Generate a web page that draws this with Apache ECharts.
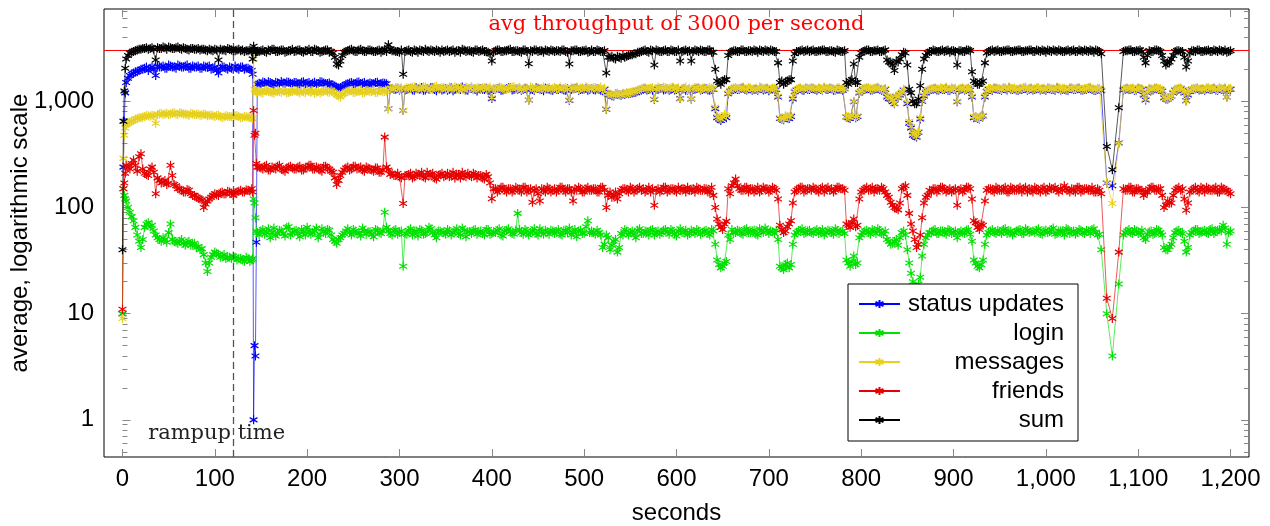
<!DOCTYPE html>
<html><head><meta charset="utf-8">
<script src="https://cdn.jsdelivr.net/npm/echarts@6/dist/echarts.min.js"></script>
<style>html,body{margin:0;padding:0;background:#fff}#c{width:1270px;height:526px}</style>
</head><body><div id="c"></div>
<script>
// ---- data (seconds, average requests per second) ----
// samples: main grid ...
const seconds = [
0,1,2,3,
4,8,12,16,20,24,28,32,36,40,44,48,52,56,60,64,68,72,76,80,84,88,92,96,100,104,108,112,116,120,124,128,132,136,140,
141,142,143,144,145,146,
148,152,156,160,164,168,172,176,180,184,
188,192,196,200,204,208,212,216,220,224,
228,232,236,240,244,248,252,256,260,264,
268,272,276,280,284,288,292,296,300,304,
308,312,316,320,324,328,332,336,340,344,
348,352,356,360,364,368,372,376,380,384,
388,392,396,400,404,408,412,416,420,424,
428,432,436,440,444,448,452,456,460,464,
468,472,476,480,484,488,492,496,500,504,
508,512,516,520,524,528,532,536,540,544,
548,552,556,560,564,568,572,576,580,584,
588,592,596,600,604,608,612,616,620,624,
628,632,636,640,644,648,652,656,660,664,
668,672,676,680,684,688,692,696,700,704,
708,712,716,720,724,728,732,736,740,744,
748,752,756,760,764,768,772,776,780,784,
788,792,796,800,804,808,812,816,820,824,
828,832,836,840,844,848,852,856,860,864,
868,872,876,880,884,888,892,896,900,904,
908,912,916,920,924,928,932,936,940,944,
948,952,956,960,964,968,972,976,980,984,
988,992,996,1000,1004,1008,1012,1016,1020,1024,
1028,1032,1036,1040,1044,1048,1052,1056,1060,
1066,1072,1079,
1084,1088,1092,1096,1100,1104,1108,1112,1116,1120,
1124,1128,1132,1136,1140,1144,1148,1152,1156,1160,
1164,1168,1172,1176,1180,1184,1188,1192,1196,1200
];

const statusUpdates = [
10,240,650,1200,
1500,1750,1850,1900,2000,2050,1950,2100,1750,2100,2150,2050,2150,2100,2200,2100,2150,2050,2150,2100,2050,2150,2100,2000,2100,1850,2100,2050,2100,2000,2050,2100,2000,2050,1950,
1800,1,5,4,47,1450,
1480,1520,1450,1500,1430,1490,1540,1470,1510,1460,
1500,1450,1530,1480,1440,1510,1470,1520,1460,1490,
1420,1350,1340,1400,1460,1500,1470,1520,1480,1450,
1490,1460,1510,1470,1480,850,1320,1300,1280,820,
1290,1330,1270,1310,1350,1280,1300,1340,1260,1320,
1300,1270,1340,1290,1310,1360,1280,1320,1300,1250,
1320,1290,1270,1060,1300,1330,1280,1310,1350,1290,
1300,1270,1320,1030,1290,1340,1300,1260,1310,1280,
1330,1290,1300,1270,1020,1310,1340,1290,1300,1270,
1320,1280,1300,1260,840,1150,1120,1170,1140,1160,
1180,1200,1220,1260,1300,1280,1310,1040,1290,1320,
1300,1270,1330,1290,1060,1310,1280,1050,1300,1330,
1290,1310,1270,1300,700,660,720,1180,1280,1310,
1300,1340,1280,1310,1290,1270,1330,1300,1260,1310,
1290,690,670,700,720,1230,1300,1280,1320,1290,
1310,1270,1300,1340,1290,1310,1280,1300,1270,710,
690,990,720,1250,1300,1320,1280,1310,1290,1270,
1100,1050,950,1080,1200,1250,620,480,460,680,
1120,1250,1290,1310,1280,1300,1330,1270,1290,990,
1300,1280,1310,1100,710,680,730,1240,1290,1320,
1300,1270,1310,1340,1290,1280,1300,1320,1270,1310,
1290,1330,1300,1270,1310,1290,1340,1280,1300,1270,
1310,1290,1320,1280,1300,1330,1270,1300,1260,
170,160,405,
1280,1310,1300,1270,1320,1290,1030,1300,1280,1310,
1290,1080,1050,1120,1280,1300,1270,1010,1240,1300,
1320,1290,1270,1310,1300,1280,1320,1290,1100,1300
];

const login = [
10,150,130,120,
115,90,75,55,42,65,72,68,55,50,52,47,70,48,46,50,44,48,45,42,40,36,25,34,38,36,35,33,34,35,32,33,31,33,32,
33,120,110,80,60,58,
55,62,58,52,64,57,60,54,66,58,
61,53,59,65,56,60,52,63,57,61,
50,46,52,57,63,55,60,58,64,56,
59,53,61,57,90,60,55,62,58,28,
56,63,59,54,61,57,65,58,52,60,
58,62,55,60,57,64,53,59,61,56,
60,55,62,57,58,63,54,61,59,56,
88,58,62,55,60,57,63,56,59,61,
57,62,55,60,64,58,53,61,57,75,
60,56,58,42,55,40,48,38,57,62,
55,60,52,63,57,59,61,55,60,58,
62,56,60,54,63,58,55,61,57,60,
58,61,55,60,32,27,30,55,62,58,
60,56,63,58,61,55,60,64,57,59,
61,28,26,30,29,55,60,63,58,61,
57,62,59,55,61,58,63,57,60,32,
28,35,30,55,60,58,62,57,61,56,
50,45,48,44,58,55,30,20,16,22,
45,55,58,62,57,60,56,61,58,52,
60,57,62,48,30,27,32,55,60,58,
61,57,63,59,55,60,62,57,61,59,
58,63,56,61,59,64,57,60,55,62,
59,56,62,58,61,57,63,55,40,
10,4,19,
55,60,58,62,57,61,50,59,56,62,
58,42,40,45,58,61,57,38,55,60,
62,58,61,57,63,59,62,68,45,60
];

const messages = [
9,290,480,560,
600,640,660,690,700,720,730,740,620,760,750,770,760,780,750,770,760,740,760,750,740,760,730,740,720,740,700,730,720,710,730,700,720,710,700,
680,2500,1300,1250,1200,1220,
1240,1200,1270,1230,1190,1260,1220,1250,1210,1240,
1260,1200,1230,1270,1220,1190,1250,1230,1280,1210,
1230,1150,1100,1180,1240,1270,1220,1250,1200,1260,
1230,1270,1210,1250,1240,850,1330,1350,1300,820,
1340,1310,1370,1320,1290,1360,1330,1300,1380,1320,
1350,1310,1290,1370,1330,1300,1360,1320,1280,1340,
1310,1350,1330,1080,1300,1360,1320,1290,1340,1370,
1320,1290,1350,1030,1340,1310,1280,1360,1330,1300,
1350,1320,1290,1340,1030,1310,1360,1330,1290,1340,
1310,1350,1320,1290,850,1170,1140,1190,1150,1180,
1200,1230,1250,1290,1340,1310,1330,1050,1360,1320,
1340,1300,1360,1320,1050,1330,1290,1060,1350,1310,
1330,1290,1350,1310,720,680,750,1200,1320,1350,
1320,1360,1300,1340,1310,1290,1350,1330,1300,1340,
1310,700,680,720,740,1250,1330,1300,1350,1320,
1340,1300,1320,1360,1310,1330,1290,1340,1310,720,
700,1000,730,1260,1330,1350,1300,1340,1310,1290,
1120,1080,960,1100,1220,1270,650,500,470,700,
1150,1270,1310,1340,1300,1320,1360,1290,1310,1000,
1330,1300,1340,1120,720,690,740,1260,1320,1350,
1320,1290,1340,1360,1310,1300,1330,1350,1290,1340,
1310,1350,1320,1290,1340,1310,1360,1300,1330,1290,
1340,1310,1350,1300,1320,1360,1290,1330,1280,
172,109,400,
1300,1340,1320,1290,1350,1310,1050,1330,1300,1340,
1310,1100,1060,1130,1300,1330,1290,1000,1260,1320,
1350,1310,1290,1340,1320,1300,1350,1310,1100,1330
];

const friends = [
11,150,170,210,
250,230,280,220,320,210,200,240,135,180,175,165,250,165,150,145,140,145,130,125,120,100,115,125,135,130,140,135,140,130,140,145,140,145,150,
140,820,480,500,260,240,
240,230,250,225,235,245,230,220,240,235,
230,245,225,240,250,230,235,220,245,230,
215,165,200,225,240,230,245,235,225,240,
230,220,235,215,460,225,210,200,195,109,
200,210,195,205,215,190,200,210,185,205,
195,210,200,190,205,215,195,200,210,190,
200,185,195,121,150,145,155,140,150,145,
150,140,155,145,112,150,115,145,155,140,
150,145,155,140,150,115,145,150,140,155,
145,150,140,155,100,140,130,120,145,150,
140,150,145,155,150,145,140,105,150,145,
155,145,150,140,145,150,155,145,140,150,
145,150,140,130,78,65,70,150,160,185,
150,145,155,150,140,155,145,150,140,155,
145,68,58,66,75,140,150,155,145,150,
155,145,150,140,155,150,145,155,150,70,
65,78,68,140,150,145,155,150,145,150,
130,112,100,95,150,160,88,60,42,55,
110,130,140,150,145,155,140,150,145,105,
150,145,155,120,72,62,68,145,150,140,
150,145,155,140,150,145,155,150,140,145,
155,145,150,140,155,150,145,150,160,145,
150,140,155,145,150,145,140,150,135,
14,9,38,
150,145,155,140,150,145,140,150,155,145,
150,100,115,110,145,155,150,94,140,150,
145,155,140,150,145,155,140,150,145,135
];

const sum = [
40,650,1250,2050,
2500,2850,2950,3050,3100,3150,3100,3200,2450,3150,3250,3100,3200,3150,3250,3100,3150,3050,3150,3100,3050,3100,3000,3050,3100,2450,3050,3000,3100,3000,3050,3000,2950,3000,2950,
2500,3300,3100,2900,2950,2950,
2950,3050,2900,3000,3100,2950,3050,2900,3000,3100,
2980,3050,2900,3000,2950,3100,3000,2950,3050,2900,
2850,2250,2400,2900,3000,3100,2950,3050,3000,2950,
3050,2950,3000,2900,3100,3400,3000,2950,2900,1800,
3000,2950,3050,2900,3000,3100,2950,3000,3050,2900,
2950,3050,3000,2900,3000,3100,2950,3000,2900,3050,
3000,2950,2900,2400,3000,3050,2950,3000,3100,2950,
3000,2900,3050,2260,2950,3050,3000,2900,3000,3050,
2950,3000,3050,2950,2250,3000,3050,2950,3000,2900,
3050,2950,3000,2950,1850,2600,2550,2650,2550,2600,
2700,2750,2800,2900,3000,2950,3050,2200,3000,2950,
3050,2950,3000,2950,2400,3000,2950,2400,3050,2950,
3000,2950,3050,2900,1550,1450,1600,2700,2950,3000,
2950,3050,2950,3000,3050,2900,3000,3050,2950,3000,
2950,1500,1450,1550,1600,2800,2950,3050,3000,2950,
3050,2950,3000,3050,2950,3000,2900,3000,2950,1500,
1550,2250,1500,2850,3000,3050,2950,3000,2950,3000,
2450,2300,1950,2350,2750,2850,1300,1000,950,1400,
2500,2850,2950,3000,2950,3050,3000,2900,3000,2200,
3000,2950,3050,1900,1500,1450,1550,2850,3000,2950,
3050,2950,3000,3050,2950,3000,3050,2950,3000,3050,
2950,3000,3050,2900,3000,3050,2950,3000,2950,3050,
3000,2950,3050,2950,3000,3050,2900,3000,2800,
375,227,870,
2950,3000,3050,2950,3000,2950,2300,3000,2950,3050,
2950,2400,2300,2500,2950,3000,2950,2100,2850,3000,
3050,2950,3000,3050,2950,3000,3050,2950,2900,3000
];

// ... and the in-between samples
const secondsMid = [
6,10,14,18,22,26,30,34,38,42,46,50,54,58,62,66,70,74,78,82,86,90,94,98,102,106,110,114,118,122,126,130,134,138,
150,154,158,162,166,170,174,178,182,186,
190,194,198,202,206,210,214,218,222,226,
230,234,238,242,246,250,254,258,262,266,
270,274,278,282,286,290,294,298,302,306,
310,314,318,322,326,330,334,338,342,346,
350,354,358,362,366,370,374,378,382,386,
390,394,398,402,406,410,414,418,422,426,
430,434,438,442,446,450,454,458,462,466,
470,474,478,482,486,490,494,498,502,506,
510,514,518,522,526,530,534,538,542,546,
550,554,558,562,566,570,574,578,582,586,
590,594,598,602,606,610,614,618,622,626,
630,634,638,642,646,650,654,658,662,666,
670,674,678,682,686,690,694,698,702,706,
710,714,718,722,726,730,734,738,742,746,
750,754,758,762,766,770,774,778,782,786,
790,794,798,802,806,810,814,818,822,826,
830,834,838,842,846,850,854,858,862,866,
870,874,878,882,886,890,894,898,902,906,
910,914,918,922,926,930,934,938,942,946,
950,954,958,962,966,970,974,978,982,986,
990,994,998,1002,1006,1010,1014,1018,1022,1026,
1030,1034,1038,1042,1046,1050,1054,1058,
1086,1090,1094,1098,1102,1106,1110,1114,1118,1122,
1126,1130,1134,1138,1142,1146,1150,1154,1158,1162,
1166,1170,1174,1178,1182,1186,1190,1194,1198
];

const statusUpdatesMid = [
1650,1800,1900,1950,2000,2100,2050,2000,2150,2100,2050,2200,2100,2050,2150,2100,2200,2050,2100,2150,2050,2100,2150,2050,1950,2050,2100,2000,2050,2150,2000,2100,2050,2000,
1460,1500,1530,1470,1510,1450,1490,1520,1480,1500,
1470,1510,1460,1500,1480,1450,1530,1490,1470,1440,
1390,1330,1380,1450,1490,1460,1510,1470,1500,1460,
1470,1500,1450,1490,1460,1300,1290,1330,1310,1280,
1310,1280,1340,1300,1270,1320,1350,1290,1310,1280,
1320,1300,1260,1330,1290,1310,1270,1340,1290,1310,
1300,1330,1280,1290,1320,1270,1300,1340,1280,1310,
1330,1290,1310,1300,1270,1320,1290,1330,1300,1270,
1300,1320,1280,1310,1290,1330,1270,1300,1320,1290,
1290,1310,1270,1300,1160,1130,1180,1150,1170,1190,
1190,1210,1250,1280,1310,1290,1270,1300,1320,1280,
1310,1290,1280,1320,1300,1270,1310,1290,1320,1280,
1310,1280,1300,850,680,690,700,1250,1300,1290,
1320,1290,1310,1270,1300,1340,1280,1310,1290,1300,
1100,680,710,690,1050,1280,1310,1270,1300,1320,
1290,1310,1280,1300,1320,1270,1300,1290,1310,700,
720,700,1200,1290,1310,1280,1300,1330,1270,1300,
1060,990,1110,1150,1280,950,560,470,510,1000,
1200,1270,1300,1280,1310,1290,1270,1310,1300,1280,
1310,1290,1280,700,690,720,1100,1300,1270,1310,
1290,1320,1280,1300,1310,1270,1290,1330,1300,1280,
1310,1280,1300,1320,1290,1270,1310,1300,1280,1320,
1290,1310,1280,1300,1320,1290,1270,1300,
1300,1290,1310,1280,1300,1150,1200,1290,1310,1300,
1250,1050,1080,1200,1280,1310,1200,1150,1290,1310,
1280,1300,1310,1290,1320,1270,1300,1310,1290
];

const loginMid = [
100,82,65,48,50,70,66,60,52,48,50,58,50,47,48,46,47,44,46,43,41,30,30,36,37,34,36,34,33,34,33,32,34,31,
60,56,63,58,54,61,57,65,55,60,
57,62,55,60,58,64,56,59,62,55,
48,50,55,60,58,62,57,54,60,59,
56,62,58,60,65,57,61,56,60,57,
61,55,60,62,56,59,63,55,60,58,
56,60,58,63,55,61,59,57,62,58,
57,62,56,59,61,55,60,63,57,61,
62,56,60,58,63,55,59,61,56,60,
59,56,61,58,55,62,60,57,66,58,
58,61,55,45,52,44,50,42,55,60,
58,56,61,57,60,55,62,58,56,61,
59,62,56,60,58,61,57,59,62,56,
60,57,62,45,29,28,31,50,58,61,
57,62,58,60,56,63,58,61,60,57,
50,27,29,27,45,58,61,57,60,58,
60,57,62,58,60,56,61,59,57,30,
31,29,52,58,61,56,60,63,57,60,
48,46,50,52,60,40,24,18,19,35,
52,58,61,57,60,58,62,57,60,58,
58,61,56,32,28,29,45,58,62,57,
59,62,57,60,58,61,57,63,58,60,
61,57,60,58,62,56,60,59,63,57,
60,58,61,57,60,62,58,56,
58,62,57,60,58,52,55,60,57,61,
55,40,43,52,60,58,48,42,58,62,
57,60,58,62,57,61,60,64,58
];

const messagesMid = [
620,650,680,700,710,730,725,735,750,770,760,750,770,760,780,760,750,770,750,760,745,750,740,730,735,720,710,725,715,730,720,705,715,700,
1220,1260,1240,1210,1250,1230,1270,1200,1240,1260,
1230,1250,1210,1240,1260,1220,1200,1250,1230,1270,
1190,1120,1160,1230,1260,1210,1240,1270,1220,1250,
1240,1210,1260,1230,1250,1320,1300,1350,1340,1310,
1330,1350,1300,1340,1370,1310,1290,1360,1320,1340,
1300,1360,1330,1310,1350,1280,1340,1370,1310,1330,
1340,1300,1360,1330,1310,1350,1300,1330,1360,1320,
1350,1310,1330,1360,1300,1340,1320,1290,1350,1330,
1310,1360,1330,1300,1350,1320,1290,1340,1370,1310,
1340,1300,1360,1330,1170,1150,1180,1160,1190,1200,
1210,1240,1280,1310,1340,1320,1350,1300,1330,1360,
1320,1350,1310,1340,1300,1360,1330,1310,1340,1300,
1340,1310,1330,880,700,710,730,1270,1340,1320,
1340,1310,1350,1290,1330,1360,1310,1340,1300,1330,
1120,690,730,710,1080,1300,1340,1310,1330,1350,
1310,1340,1290,1330,1350,1310,1340,1300,1330,720,
740,710,1220,1320,1350,1310,1330,1360,1300,1320,
1090,1020,1130,1170,1300,980,580,490,520,1020,
1230,1300,1330,1310,1350,1320,1290,1340,1330,1310,
1340,1310,1300,720,700,730,1120,1330,1300,1340,
1310,1350,1300,1330,1340,1290,1320,1360,1330,1300,
1340,1300,1330,1350,1310,1290,1340,1330,1300,1350,
1310,1340,1300,1330,1350,1310,1290,1330,
1330,1310,1340,1300,1320,1170,1220,1310,1340,1320,
1270,1070,1100,1220,1310,1340,1220,1170,1310,1330,
1300,1320,1340,1310,1350,1290,1320,1340,1310
];

const friendsMid = [
240,260,250,300,230,205,230,215,190,170,180,170,200,160,150,140,148,135,130,122,118,108,120,130,132,138,134,142,136,138,142,140,146,143,
235,245,225,240,230,250,225,235,245,230,
240,225,235,250,230,240,225,245,235,220,
190,180,215,235,225,245,230,240,220,235,
225,235,215,225,240,205,200,210,190,200,
205,190,210,200,195,215,205,190,200,210,
200,195,215,205,190,200,210,195,205,200,
190,205,170,150,140,155,145,150,140,155,
145,155,140,150,145,135,150,140,150,145,
140,155,145,150,140,150,155,140,150,145,
150,140,155,145,130,125,140,135,150,145,
155,140,150,145,140,155,150,145,140,155,
140,150,145,155,150,140,145,150,155,145,
150,140,155,100,70,62,74,135,170,160,
145,155,140,150,145,140,155,150,145,150,
120,62,60,70,110,145,155,140,150,145,
150,140,155,150,145,140,155,150,145,68,
72,66,120,145,155,150,140,150,155,140,
125,105,98,110,155,130,70,50,45,80,
125,145,150,140,155,150,145,140,150,145,
140,155,150,75,65,70,115,150,145,155,
145,150,140,155,145,150,140,155,150,140,
150,140,155,145,150,155,140,145,150,140,
145,155,140,150,145,155,140,145,
145,155,140,150,145,130,140,155,145,150,
130,105,112,130,150,145,120,110,145,155,
140,150,155,145,150,140,155,145,140
];

const sumMid = [
2700,2900,3000,3100,3150,3200,3150,3100,3200,3150,3200,3250,3150,3200,3150,3200,3100,3150,3100,3150,3100,3050,3100,3000,3050,3100,3050,3150,3050,3000,3100,3050,3000,3050,
3000,2950,3050,3100,2950,3000,3050,2950,3000,2950,
3050,2950,3000,3100,2950,3050,2900,3000,3050,2950,
2600,2200,2700,2950,3050,3000,2950,3100,2950,3050,
3000,2950,3050,3000,2950,3100,3000,2950,3050,2950,
3050,2900,3000,3050,2950,3000,3050,2950,3000,3050,
3000,2950,3050,3000,2900,3050,3000,2950,3050,2950,
3050,2950,2800,2900,3050,2950,3000,3050,2950,3000,
2950,3050,2950,3000,3050,2950,3000,3050,2950,3000,
3000,2950,3050,2900,3000,3050,2950,3000,3050,2950,
2950,3050,2950,3000,2600,2650,2500,2600,2700,2650,
2750,2800,2900,2950,3050,2900,3000,3050,2950,3000,
2950,3050,2950,3050,2950,3050,3000,2950,3000,3050,
2950,3050,2900,2000,1500,1550,1600,2900,3000,2950,
3050,2950,3000,2950,3000,3050,2950,3000,3050,2950,
2300,1550,1500,1600,2400,2950,3000,2950,3050,3000,
2950,3000,3050,2950,3000,2950,3050,2950,3000,1450,
1600,1500,2600,2950,3050,2950,3000,3050,2950,3050,
2350,2200,2400,2500,2900,2200,1200,950,1050,2000,
2700,2950,3050,2950,3000,2950,3050,3000,2950,3000,
2950,3050,3000,1550,1450,1500,2300,2950,3050,3000,
2950,3000,3050,2950,3000,3050,2950,3000,3050,2950,
3050,2950,3000,3050,2950,3000,3050,2950,3000,2950,
3050,2950,3000,3050,2950,3000,3050,2950,
3000,3050,2950,3000,3050,2600,2700,2950,3050,3000,
2700,2200,2350,2700,3000,2950,2600,2400,3000,2950,
3050,2950,3000,2950,3050,2950,3000,3050,2950
];

const seriesNames = ['status updates', 'login', 'messages', 'friends', 'sum'];
const xTickValues = [0,100,200,300,400,500,600,700,800,900,1000,1100,1200];
const yTickValues = [1,10,100,1000];
const yMinorTickValues = [0.5,0.6,0.7,0.8,0.9,2,3,4,5,6,7,8,9,20,30,40,50,60,70,80,90,200,300,400,500,600,700,800,900,2000,3000,4000,5000,6000,7000];
const throughput = 3000;
const rampupEnd = 120;
const rampupLabelAt = [102, 0.74];

// ---- chart ----
const valueArrays = [statusUpdates, login, messages, friends, sum];
const midArrays = [statusUpdatesMid, loginMid, messagesMid, friendsMid, sumMid];
valueArrays.forEach((a, i) => { if (a.length !== seconds.length) throw new Error(seriesNames[i] + ' length ' + a.length + ' vs ' + seconds.length); });
midArrays.forEach((a, i) => { if (a.length !== secondsMid.length) throw new Error(seriesNames[i] + ' mid length ' + a.length + ' vs ' + secondsMid.length); });

const colors = ['#0000ff', '#00e000', '#e6d020', '#e60000', '#000000'];
const SANS = 'Liberation Sans';
const SERIF = 'DejaVu Serif';
const STAR = 'path://M5,0L5,10M0.67,2.5L9.33,7.5M0.67,7.5L9.33,2.5';
const fmt = v => Number(v).toLocaleString('en-US');
const TICK = '#888';
const X_MIN = -20, X_MAX = 1220, Y_MIN = 0.447, Y_MAX = 7400;

const series = valueArrays.map((vals, i) => {
  const pts = seconds.map((t, k) => [t, vals[k]])
    .concat(secondsMid.map((t, k) => [t, midArrays[i][k]]))
    .sort((a, b) => a[0] - b[0]);
  return {
    name: seriesNames[i],
    type: 'line',
    xAxisIndex: 0, yAxisIndex: 0,
    data: pts,
    symbol: STAR, symbolSize: 9, symbolKeepAspect: true, showAllSymbol: true,
    lineStyle: { color: colors[i], width: 1, opacity: 0.65 },
    itemStyle: { color: colors[i], borderColor: colors[i], borderWidth: 1.2 },
    emphasis: { disabled: true },
    silent: true,
    z: 2 + i,
    animation: false
  };
});

series[0].markLine = {
  silent: true, symbol: ['none', 'none'], animation: false,
  data: [
    { yAxis: throughput,
      lineStyle: { color: '#ff0000', width: 1, type: 'solid' },
      label: { show: true, position: 'insideMiddleTop', distance: 16,
        formatter: 'avg throughput of ' + throughput + ' per second',
        color: '#ff0000', fontFamily: SERIF, fontSize: 21 } },
    { xAxis: rampupEnd,
      lineStyle: { color: '#555', width: 1.3, type: [7, 4] },
      label: { show: false } }
  ]
};
series[0].markPoint = {
  silent: true, animation: false, symbol: 'circle', symbolSize: 1,
  itemStyle: { color: 'transparent' },
  data: [{ coord: rampupLabelAt,
    label: { show: true, position: 'inside', formatter: 'rampup time',
      color: '#222', fontFamily: SERIF, fontSize: 21 } }]
};

function xAxis(pos, labels) {
  return {
    type: 'value', min: X_MIN, max: X_MAX, position: pos,
    axisLine: { show: false }, splitLine: { show: false },
    axisTick: { show: true, inside: true, length: 8, customValues: xTickValues, lineStyle: { color: TICK, width: 1 } },
    axisLabel: labels ? { show: true, customValues: xTickValues, formatter: fmt, margin: 10,
      fontFamily: SANS, fontSize: 24, color: '#000' } : { show: false },
    name: labels ? 'seconds' : '', nameLocation: 'middle', nameGap: 44,
    nameTextStyle: { fontFamily: SANS, fontSize: 24, color: '#000' }
  };
}
function yAxis(pos, ticks, len, labels) {
  return {
    type: 'log', logBase: 10, min: Y_MIN, max: Y_MAX, position: pos,
    axisLine: { show: false }, splitLine: { show: false }, minorTick: { show: false },
    axisTick: { show: true, inside: true, length: len, customValues: ticks, lineStyle: { color: TICK, width: 1 } },
    axisLabel: labels ? { show: true, customValues: yTickValues, formatter: fmt, margin: 10,
      fontFamily: SANS, fontSize: 24, color: '#000' } : { show: false },
    name: labels ? 'average, logarithmic scale' : '', nameLocation: 'middle', nameGap: 72,
    nameMoveOverlap: false,
    nameTextStyle: { fontFamily: SANS, fontSize: 24, color: '#000' }
  };
}

const chart = echarts.init(document.getElementById('c'), null, { renderer: 'canvas' });
chart.setOption({
  animation: false,
  backgroundColor: '#fff',
  grid: { left: 104, top: 9, width: 1145, height: 448, containLabel: false, outerBoundsMode: 'none',
    show: true, borderColor: '#000', borderWidth: 1, backgroundColor: 'transparent' },
  xAxis: [xAxis('bottom', true), xAxis('top', false)],
  yAxis: [
    yAxis('left', yTickValues, 8, true),
    yAxis('left', yMinorTickValues, 5, false),
    yAxis('right', yTickValues, 8, false),
    yAxis('right', yMinorTickValues, 5, false)
  ],
  legend: {
    data: seriesNames, orient: 'vertical', left: 848, top: 284,
    padding: [8, 14, 9, 10], itemGap: 5, itemWidth: 41, itemHeight: 10,
    borderColor: '#000', borderWidth: 1, backgroundColor: '#fff',
    selectedMode: false,
    formatter: n => '{r|' + n + '}',
    lineStyle: { opacity: 1 },
    textStyle: { fontFamily: SANS, fontSize: 24, color: '#000',
      rich: { r: { width: 159, align: 'right', fontFamily: SANS, fontSize: 24, lineHeight: 24, color: '#000' } } }
  },
  series: series
});
</script>
</body></html>
